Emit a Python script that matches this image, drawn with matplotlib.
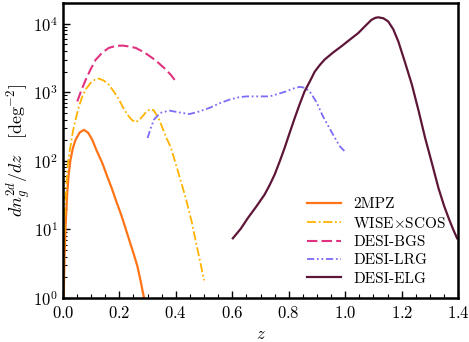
import numpy as np
import matplotlib
matplotlib.use("Agg")
import matplotlib.pyplot as plt
from matplotlib.ticker import MultipleLocator, LogLocator, NullFormatter

plt.rcParams['font.family'] = 'serif'
plt.rcParams['font.serif'] = ['cmr10', 'DejaVu Serif']
plt.rcParams['mathtext.fontset'] = 'cm'
plt.rcParams['axes.formatter.use_mathtext'] = True

# (z, dn/dz)
z_2mpz = [0.003, 0.006, 0.0095, 0.0154, 0.021, 0.027, 0.035, 0.045, 0.06, 0.075, 0.09,
          0.104, 0.12, 0.14, 0.158, 0.175, 0.19, 0.205, 0.22, 0.235, 0.25, 0.264, 0.275,
          0.284, 0.29]
n_2mpz = [1.0, 4.0, 11, 34, 65, 103, 150, 203, 260, 283, 255,
          203, 140, 92, 58, 38, 25, 17, 11, 7, 4.5, 2.9, 1.8,
          1.17, 0.9]

z_wise = [0.001, 0.0036, 0.008, 0.0154, 0.021, 0.027, 0.035, 0.045, 0.057, 0.069, 0.083,
          0.098, 0.113, 0.128, 0.145, 0.163, 0.18, 0.199, 0.214, 0.229, 0.243, 0.256,
          0.27, 0.282, 0.296, 0.31, 0.322, 0.341, 0.365, 0.383, 0.395, 0.41, 0.425, 0.44,
          0.456, 0.472, 0.486, 0.5]
n_wise = [1.0, 3.6, 20, 74, 115, 162, 260, 400, 620, 870, 1130,
          1360, 1520, 1580, 1480, 1290, 1030, 780, 590, 470, 400, 365,
          390, 445, 520, 570, 545, 400, 225, 154, 105, 65, 40, 24,
          13, 6.3, 3.4, 1.8]

z_bgs = [0.051, 0.066, 0.081, 0.098, 0.116, 0.14, 0.163, 0.188, 0.211, 0.235, 0.258,
         0.288, 0.317, 0.34, 0.365, 0.383, 0.398]
n_bgs = [735, 1080, 1520, 2150, 2970, 3800, 4440, 4750, 4800, 4650, 4440,
         3820, 3160, 2650, 2140, 1780, 1480]

z_lrg = [0.3, 0.31, 0.323, 0.345, 0.377, 0.41, 0.448, 0.48, 0.519, 0.555, 0.59, 0.62,
         0.649, 0.69, 0.732, 0.76, 0.791, 0.815, 0.839, 0.857, 0.874, 0.898, 0.921,
         0.95, 0.981, 1.0]
n_lrg = [215, 290, 400, 500, 540, 510, 480, 520, 590, 690, 780, 840,
         870, 870, 870, 940, 1030, 1130, 1200, 1160, 1030, 720, 445,
         270, 162, 135]

z_elg = [0.602, 0.63, 0.655, 0.685, 0.714, 0.732, 0.75, 0.768, 0.785, 0.803, 0.821, 0.838,
         0.856, 0.875, 0.892, 0.91, 0.927, 0.957, 0.987, 1.016, 1.046, 1.07, 1.093, 1.107,
         1.117, 1.135, 1.152, 1.17, 1.188, 1.212, 1.236, 1.26, 1.283, 1.307, 1.33, 1.35,
         1.366, 1.382, 1.396]
n_elg = [7.4, 10.2, 14.6, 21.5, 32, 44, 63, 98, 153, 255, 420, 660,
         1030, 1450, 2000, 2500, 3000, 3800, 4700, 5850, 7300, 9200, 11400, 12200,
         12400, 12000, 10800, 8300, 5500, 2700, 1290, 530, 214, 92, 40, 22,
         14.6, 10, 7.4]

fig = plt.figure(figsize=(4.69, 3.42), dpi=100)
ax = fig.add_axes([0.134, 0.129, 0.843, 0.862])

ax.plot(z_2mpz, n_2mpz, color='#ff7417', lw=1.6, label='2MPZ')
ax.plot(z_wise, n_wise, color='#ffb300', lw=1.3, ls=(0, (5, 1.5, 1, 1.5)), label=r'WISE$\times$SCOS')
ax.plot(z_bgs, n_bgs, color='#e0327e', lw=1.5, ls=(0, (5, 2)), label='DESI-BGS')
ax.plot(z_lrg, n_lrg, color='#7b6cf6', lw=1.3, ls=(0, (4, 1.5, 1, 1.5, 1, 1.5)), label='DESI-LRG')
ax.plot(z_elg, n_elg, color='#5e1638', lw=1.6, label='DESI-ELG')

ax.set_yscale('log')
ax.set_xlim(0, 1.4)
ax.set_ylim(1, 2e4)
ax.xaxis.set_major_locator(MultipleLocator(0.2))
ax.xaxis.set_minor_locator(MultipleLocator(0.05))
ax.yaxis.set_major_locator(LogLocator(base=10, numticks=10))
ax.yaxis.set_minor_locator(LogLocator(base=10, subs=np.arange(2, 10), numticks=10))
ax.yaxis.set_minor_formatter(NullFormatter())
ax.tick_params(which='both', direction='in', labelsize=12)
ax.tick_params(which='major', length=5, width=1)
ax.tick_params(which='minor', length=3, width=0.8)
ax.tick_params(axis='x', pad=5)
for s in ax.spines.values():
    s.set_linewidth(1.8)

ax.set_xlabel(r'$z$', fontsize=12)
ax.set_ylabel(r'$dn_g^{2d}/dz\quad[\mathrm{deg}^{-2}]$', fontsize=13, labelpad=1)

ax.legend(loc='lower right', frameon=False, fontsize=11, handlelength=2.2,
          borderaxespad=0.4, labelspacing=0.3)

fig.savefig('out.png', dpi=100)
